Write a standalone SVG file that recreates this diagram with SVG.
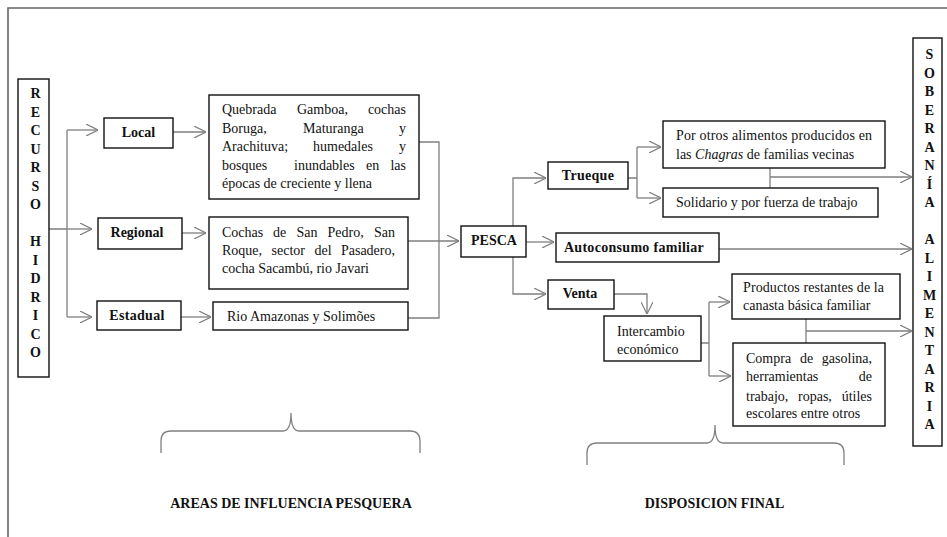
<svg xmlns="http://www.w3.org/2000/svg" width="947" height="537" viewBox="0 0 947 537">
<defs>
<marker id="arr" viewBox="0 0 12 12" refX="12" refY="6" markerWidth="12" markerHeight="12" markerUnits="userSpaceOnUse" orient="auto">
<path d="M0,0 L12,6 L0,12" fill="none" stroke="#7f7f7f" stroke-width="1.2"/>
</marker>
</defs>
<style>
.box{fill:#fff;stroke:#111;stroke-width:1.4}
.t{font-family:"Liberation Serif","Times New Roman",serif;font-size:14px;fill:#111}
.b{font-family:"Liberation Serif","Times New Roman",serif;font-size:14px;font-weight:bold;fill:#111}
.v{font-family:"Liberation Serif","Times New Roman",serif;font-size:14px;font-weight:bold;fill:#111;text-anchor:middle}
.c{fill:none;stroke:#7f7f7f;stroke-width:1.3}
.a{fill:none;stroke:#7f7f7f;stroke-width:1.3;marker-end:url(#arr)}
.br{fill:none;stroke:#808080;stroke-width:1.3}
.m{text-anchor:middle}
.e{text-anchor:end}
</style>
<rect width="947" height="537" fill="#fff"/>
<path d="M8,537 V8 H947" fill="none" stroke="#666" stroke-width="1.6"/>

<g id="connectors">
<path class="c" d="M49,229 H67 M67,130 V317"/>
<path class="a" d="M67,130 H98"/>
<path class="a" d="M67,229 H92"/>
<path class="a" d="M67,317 H92"/>
<path class="a" d="M173,132 H206"/>
<path class="a" d="M182,233 H206"/>
<path class="a" d="M181,317 H211"/>
<path class="c" d="M419,142 H439 V318 H408"/>
<path class="a" d="M408,241 H459"/>
<path class="a" d="M513,226 V178 H546"/>
<path class="a" d="M526,242 H554"/>
<path class="a" d="M513,257 V294 H546"/>
<path class="c" d="M628,178 H637 M637,147 V198"/>
<path class="a" d="M637,147 H661"/>
<path class="a" d="M637,198 H661"/>
<path class="c" d="M770,168 V188"/>
<path class="a" d="M770,177 H912"/>
<path class="a" d="M719,249 H912"/>
<path class="a" d="M614,294 H647 V314"/>
<path class="c" d="M701,343 H709 M709,302 V376"/>
<path class="a" d="M709,302 H730"/>
<path class="a" d="M709,376 H731"/>
<path class="c" d="M806,319 V343"/>
<path class="a" d="M806,331 H912"/>
</g>

<g id="recurso-hidrico">
<rect class="box" x="18" y="79" width="31" height="298"/>
<text class="v" x="35.5" y="98">R</text>
<text class="v" x="35.5" y="116.5">E</text>
<text class="v" x="35.5" y="135">C</text>
<text class="v" x="35.5" y="153.5">U</text>
<text class="v" x="35.5" y="172">R</text>
<text class="v" x="35.5" y="190.5">S</text>
<text class="v" x="35.5" y="209">O</text>
<text class="v" x="35.5" y="246">H</text>
<text class="v" x="35.5" y="264.5">I</text>
<text class="v" x="35.5" y="283">D</text>
<text class="v" x="35.5" y="301.5">R</text>
<text class="v" x="35.5" y="320">I</text>
<text class="v" x="35.5" y="338.5">C</text>
<text class="v" x="35.5" y="357">O</text>
</g>

<g id="local">
<rect class="box" x="104" y="118" width="69" height="30"/>
<text class="b m" x="138.5" y="137">Local</text>
</g>
<g id="regional">
<rect class="box" x="98" y="218" width="84" height="31"/>
<text class="b m" x="137" y="237">Regional</text>
</g>
<g id="estadual">
<rect class="box" x="97" y="301" width="84" height="29"/>
<text class="b m" x="137" y="320" letter-spacing="0.3">Estadual</text>
</g>

<g id="local-areas">
<rect class="box" x="209" y="95" width="210" height="104"/>
<text class="t" x="222" y="114">Quebrada</text>
<text class="t" x="297" y="114">Gamboa,</text>
<text class="t e" x="406" y="114">cochas</text>
<text class="t" x="222" y="133">Boruga,</text>
<text class="t" x="303" y="133">Maturanga</text>
<text class="t e" x="406" y="133">y</text>
<text class="t" x="222" y="151">Arachituva;</text>
<text class="t" x="313" y="151">humedales</text>
<text class="t e" x="406" y="151">y</text>
<text class="t" x="222" y="170">bosques</text>
<text class="t" x="294" y="170">inundables</text>
<text class="t" x="366" y="170">en</text>
<text class="t e" x="406" y="170">las</text>
<text class="t" x="222" y="188">épocas de creciente  y llena</text>
</g>

<g id="regional-areas">
<rect class="box" x="209" y="217" width="199" height="72"/>
<text class="t" x="222" y="237">Cochas</text>
<text class="t" x="273" y="237">de</text>
<text class="t" x="296.5" y="237">San</text>
<text class="t" x="327.5" y="237">Pedro,</text>
<text class="t e" x="395" y="237">San</text>
<text class="t" x="222" y="255">Roque,</text>
<text class="t" x="271.5" y="255">sector</text>
<text class="t" x="314.5" y="255">del</text>
<text class="t e" x="395" y="255">Pasadero,</text>
<text class="t" x="222" y="273">cocha Sacambú, rio Javari</text>
</g>

<g id="estadual-areas">
<rect class="box" x="213" y="302" width="195" height="28"/>
<text class="t" x="227" y="321">Rio Amazonas y Solimões</text>
</g>

<g id="pesca">
<rect class="box" x="461" y="226" width="65" height="31"/>
<text class="b m" x="494" y="245">PESCA</text>
</g>

<g id="trueque">
<rect class="box" x="548" y="162" width="80" height="27"/>
<text class="b m" x="588" y="180" letter-spacing="0.3">Trueque</text>
</g>

<g id="autoconsumo">
<rect class="box" x="556" y="233" width="163" height="29"/>
<text class="b m" x="634" y="252" letter-spacing="0.3">Autoconsumo familiar</text>
</g>

<g id="venta">
<rect class="box" x="548" y="280" width="66" height="29"/>
<text class="b m" x="580" y="298">Venta</text>
</g>

<g id="por-otros">
<rect class="box" x="663" y="121" width="222" height="47"/>
<text class="t" x="676" y="140" textLength="196" lengthAdjust="spacing">Por otros alimentos producidos en</text>
<text class="t" x="676" y="159">las <tspan font-style="italic">Chagras</tspan> de familias vecinas</text>
</g>

<g id="solidario">
<rect class="box" x="663" y="188" width="215" height="29"/>
<text class="t" x="676" y="207">Solidario y por fuerza de trabajo</text>
</g>

<g id="intercambio">
<rect class="box" x="604" y="316" width="97" height="45"/>
<text class="t" x="617" y="336">Intercambio</text>
<text class="t" x="617" y="354">económico</text>
</g>

<g id="productos">
<rect class="box" x="732" y="274" width="168" height="45"/>
<text class="t" x="743" y="292" textLength="141" lengthAdjust="spacing">Productos restantes de la</text>
<text class="t" x="743" y="310">canasta básica familiar</text>
</g>

<g id="compra">
<rect class="box" x="733" y="343" width="152" height="83"/>
<text class="t" x="746" y="363">Compra</text>
<text class="t" x="800" y="363">de</text>
<text class="t e" x="872" y="363">gasolina,</text>
<text class="t" x="746" y="381">herramientas</text>
<text class="t e" x="872" y="381">de</text>
<text class="t" x="746" y="401">trabajo,</text>
<text class="t" x="798" y="401">ropas,</text>
<text class="t e" x="872" y="401">útiles</text>
<text class="t" x="746" y="418">escolares entre otros</text>
</g>

<g id="soberania-alimentaria">
<rect class="box" x="913" y="38" width="29" height="408"/>
<text class="v" x="929.5" y="59">S</text>
<text class="v" x="929.5" y="77.5">O</text>
<text class="v" x="929.5" y="96">B</text>
<text class="v" x="929.5" y="114.5">E</text>
<text class="v" x="929.5" y="133">R</text>
<text class="v" x="929.5" y="151.5">A</text>
<text class="v" x="929.5" y="170">N</text>
<text class="v" x="929.5" y="188.5">Í</text>
<text class="v" x="929.5" y="207">A</text>
<text class="v" x="929.5" y="244">A</text>
<text class="v" x="929.5" y="262.5">L</text>
<text class="v" x="929.5" y="281">I</text>
<text class="v" x="929.5" y="299.5">M</text>
<text class="v" x="929.5" y="318">E</text>
<text class="v" x="929.5" y="336.5">N</text>
<text class="v" x="929.5" y="355">T</text>
<text class="v" x="929.5" y="373.5">A</text>
<text class="v" x="929.5" y="392">R</text>
<text class="v" x="929.5" y="410.5">I</text>
<text class="v" x="929.5" y="429">A</text>
</g>

<g id="brace-areas">
<path class="br" d="M161,453 V441 Q161,431 171,431 H283 Q291,431 291,413 Q291,431 299,431 H410 Q420,431 420,441 V453"/>
<text class="b m" x="291" y="508" font-size="13.5">AREAS DE INFLUENCIA PESQUERA</text>
</g>

<g id="brace-disposicion">
<path class="br" d="M587,465 V453 Q587,443 597,443 H707 Q715,443 715,425 Q715,443 723,443 H834 Q844,443 844,453 V465"/>
<text class="b m" x="714.5" y="508" font-size="13.5">DISPOSICION FINAL</text>
</g>
</svg>
